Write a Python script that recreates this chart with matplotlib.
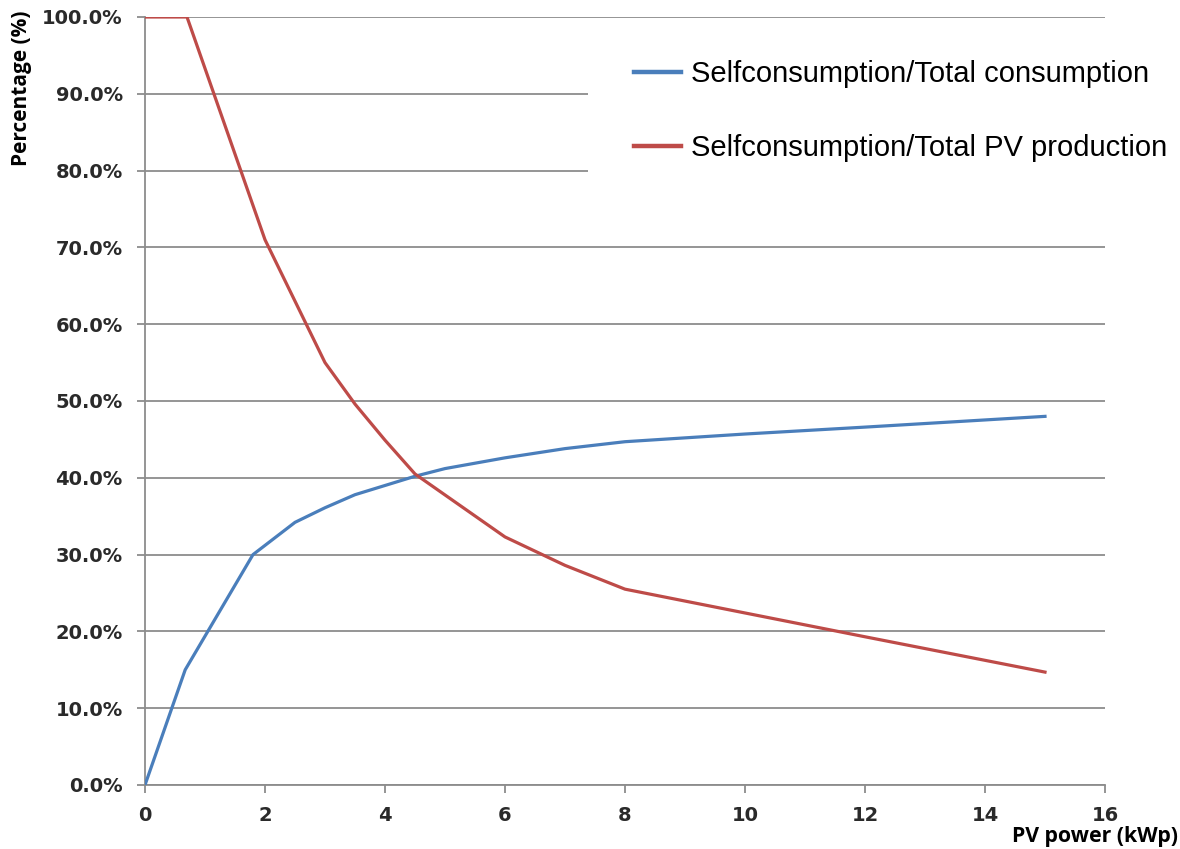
import matplotlib
matplotlib.use("Agg")
import matplotlib.pyplot as plt
from matplotlib.ticker import FuncFormatter
from matplotlib.patches import Rectangle

# ---- data ----
pv_blue = [0, 0.67, 1.8, 2.0, 2.5, 3.0, 3.5, 4.0, 4.5, 5.0, 6.0, 7.0, 8.0, 10, 12, 15]
self_total_cons = [0, 15, 30, 31.2, 34.2, 36.1, 37.8, 39.0, 40.2, 41.2, 42.6, 43.8, 44.7, 45.7, 46.6, 48.0]

pv_red = [0, 0.7, 2, 3, 3.5, 4.0, 4.5, 6, 7, 8, 10, 12, 15]
self_total_pv = [100, 100, 71, 55, 49.6, 44.9, 40.5, 32.3, 28.6, 25.5, 22.4, 19.3, 14.7]

x_ticks = [0, 2, 4, 6, 8, 10, 12, 14, 16]
y_ticks = [0, 10, 20, 30, 40, 50, 60, 70, 80, 90, 100]
labels = ["Selfconsumption/Total consumption", "Selfconsumption/Total PV production"]

BLUE = "#4A7EBB"
RED = "#BE4B48"
GRID = "#8C8C8C"
TXT = "#2a2a2a"

W, H = 1180, 849
fig = plt.figure(figsize=(W/100, H/100), dpi=100)
ax = fig.add_axes([145/W, 1-785/H, 960/W, 768/H])

ax.plot(pv_blue, self_total_cons, color=BLUE, lw=2.3, label=labels[0], solid_joinstyle="round", zorder=3)
ax.plot(pv_red, self_total_pv, color=RED, lw=2.3, label=labels[1], solid_joinstyle="round", zorder=3)

ax.set_xlim(0, 16)
ax.set_ylim(0, 100)
ax.set_xticks(x_ticks)
ax.set_yticks(y_ticks)
ax.yaxis.set_major_formatter(FuncFormatter(lambda v, p: f"{v:.1f}%"))
ax.grid(axis="y", color=GRID, lw=1.3)
ax.set_axisbelow(True)
for s in ["top", "right"]:
    ax.spines[s].set_visible(False)
for s in ["left", "bottom"]:
    ax.spines[s].set_color(GRID)
    ax.spines[s].set_linewidth(1.3)
ax.tick_params(axis="both", direction="out", length=6, width=1.3, color=GRID,
               labelsize=14, labelcolor=TXT)
ax.tick_params(axis="y", pad=10)
ax.tick_params(axis="x", pad=9)
for lab in ax.get_xticklabels() + ax.get_yticklabels():
    lab.set_fontweight("bold")

# white legend area covering gridlines
bg = Rectangle((588/W, 1-195/H), (W-588)/W, (195-30)/H, transform=fig.transFigure,
               facecolor="white", edgecolor="none", zorder=1, clip_on=False)
ax.add_patch(bg)

leg = ax.legend(loc="upper left", bbox_to_anchor=(634/W, 1-60/H),
                bbox_transform=fig.transFigure,
                prop={"family": "Liberation Sans", "size": 21},
                frameon=False, borderpad=0, labelspacing=1.57,
                handlelength=1.6, handletextpad=0.35, borderaxespad=0)
for h in leg.get_lines():
    h.set_linewidth(3.2)
leg.set_zorder(5)

fig.text(22/W, 1-10/H, "Percentage (%)", rotation=90, ha="center", va="top",
         fontsize=15, fontweight="bold", family="Open Sans", color="black")
fig.text(1178/W, 1-847/H, "PV power (kWp)", ha="right", va="bottom",
         fontsize=15.3, fontweight="bold", family="Open Sans", color="black")

fig.savefig("out.png", dpi=100, facecolor="white")
